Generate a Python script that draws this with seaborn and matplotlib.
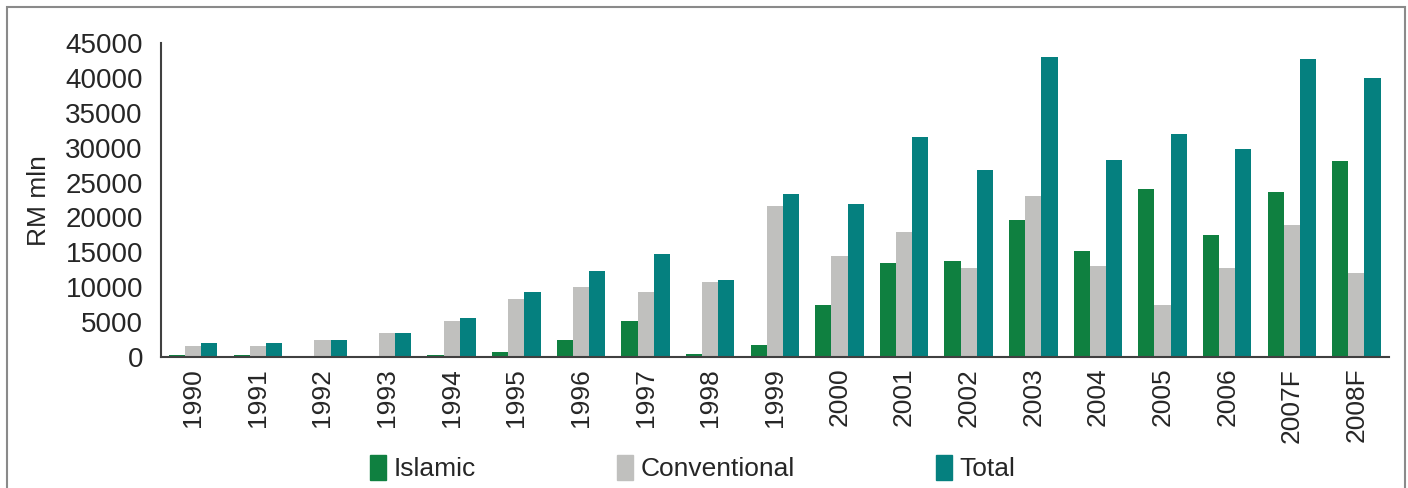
import pandas as pd
import seaborn as sns
import matplotlib.pyplot as plt
from matplotlib.patches import Rectangle

years = ["1990", "1991", "1992", "1993", "1994", "1995", "1996", "1997", "1998", "1999",
         "2000", "2001", "2002", "2003", "2004", "2005", "2006", "2007F", "2008F"]
islamic = [300, 300, 0, 0, 300, 700, 2400, 5100, 400, 1700,
           7500, 13400, 13700, 19700, 15200, 24100, 17500, 23700, 28100]
conventional = [1600, 1600, 2400, 3400, 5100, 8300, 10000, 9300, 10700, 21700,
                14500, 17900, 12700, 23100, 13000, 7500, 12700, 18900, 12000]
total = [2000, 2000, 2400, 3400, 5500, 9300, 12300, 14800, 11000, 23400,
         22000, 31600, 26800, 43000, 28200, 32000, 29900, 42700, 40000]
series = ["Islamic", "Conventional", "Total"]
colors = ["#0f8040", "#c0c0be", "#05807f"]

df = pd.DataFrame({"year": years * 3,
                   "value": islamic + conventional + total,
                   "series": [s for s in series for _ in years]})

sns.set_style("white")
plt.rcParams["font.family"] = ["Liberation Sans", "DejaVu Sans"]

fig = plt.figure(figsize=(14.08, 4.88), dpi=100)
ax = fig.add_axes([0.1143, 0.269, 0.872, 0.642])

sns.barplot(data=df, x="year", y="value", hue="series", palette=colors,
            order=years, hue_order=series, width=0.75, saturation=1,
            linewidth=0, ax=ax)

# frame around the whole chart
fig.patches.append(Rectangle((7 / 1408, -0.05), 1398 / 1408, 1.05 - 7 / 488,
                             transform=fig.transFigure, fill=False,
                             edgecolor="#8a8a8a", linewidth=1.5))

ax.set_ylim(0, 45000)
ax.set_xlim(-0.5, len(years) - 0.5)
ax.set_yticks(range(0, 45001, 5000))
ax.tick_params(axis="y", labelsize=20, length=7, width=1.2, color="#404040", pad=6)
ax.set_xticks(range(len(years)))
ax.set_xticklabels(years, rotation=90, fontsize=19)
ax.tick_params(axis="x", which="major", length=0, pad=8)
ax.set_xticks([i - 0.5 for i in range(len(years) + 1)], minor=True)
ax.tick_params(axis="x", which="minor", length=7, width=1.2, color="#404040", direction="out")
ax.set_xlabel("")
ax.set_ylabel("RM mln", fontsize=19, labelpad=10)

sns.despine(ax=ax)
for side in ["left", "bottom"]:
    ax.spines[side].set_color("#404040")
    ax.spines[side].set_linewidth(1.5)

ax.get_legend().remove()
handles = [Rectangle((0, 0), 1, 1, color=c) for c in colors]
fig.legend(handles, series, loc="lower center", bbox_to_anchor=(0.492, -0.035), ncol=3,
           frameon=False, fontsize=19, handlelength=0.6, handleheight=1.1,
           handletextpad=0.3, columnspacing=5.35)

fig.savefig("out.png", dpi=100)
